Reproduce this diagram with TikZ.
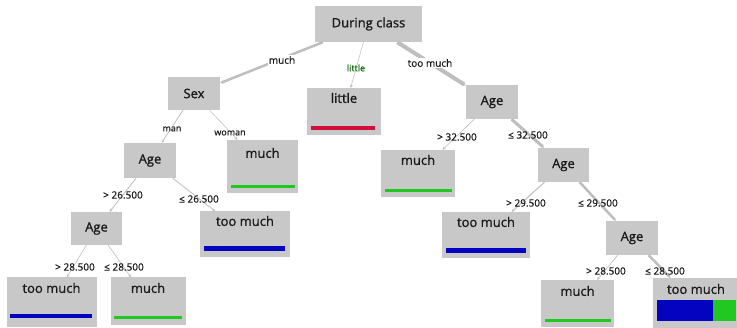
\documentclass[tikz,border=0pt]{standalone}
\usepackage{fontspec}
\setmainfont{Open Sans}
\newfontfamily\nodefont{Open Sans}[FakeBold=1.2]
\newfontfamily\labelfont{Open Sans}[FakeBold=0.6]
\usetikzlibrary{arrows.meta}
\definecolor{boxgray}{HTML}{C8C8C8}
\definecolor{edgegray}{HTML}{BEBEBE}
\definecolor{txt}{HTML}{1A1A1A}
\definecolor{barblue}{HTML}{0404C0}
\definecolor{bargreen}{HTML}{22C822}
\definecolor{barred}{HTML}{D0103A}
\tikzset{
  box/.style={rectangle, fill=boxgray, inner sep=0pt},
  ntext/.style={text=txt, font=\nodefont\fontsize{13}{15}\selectfont, inner sep=0pt},
  elabel/.style={text=txt, font=\labelfont\fontsize{10}{12}\selectfont, inner sep=0pt},
  slabel/.style={text=txt, font=\labelfont\fontsize{9}{11}\selectfont, inner sep=0pt},
  edge/.style={draw=edgegray, -{Stealth[length=3pt,width=3pt]}},
}
\begin{document}
\begin{tikzpicture}[x=1pt,y=-1pt]
\useasboundingbox[fill=white] (0,0) rectangle (737,328);
% decision boxes
\node[box, minimum width=107, minimum height=36] (root) at (368.5,24) {};
\node[ntext] (troot) at (root) {During class};
\node[box, minimum width=52, minimum height=33] (sex) at (194,93.5) {};
\node[ntext] (tsex) at (sex) {Sex};
\node[box, minimum width=52, minimum height=34] (ager1) at (492,102) {};
\node[ntext] (tager1) at (ager1) {Age};
\node[box, minimum width=51, minimum height=34] (ager2) at (563.5,165) {};
\node[ntext] (tager2) at (ager2) {Age};
\node[box, minimum width=52, minimum height=35] (agel1) at (150,160.5) {};
\node[ntext] (tagel1) at (agel1) {Age};
\node[box, minimum width=51, minimum height=33] (agel2) at (96.5,228.5) {};
\node[ntext] (tagel2) at (agel2) {Age};
\node[box, minimum width=52, minimum height=34] (ager3) at (632,238) {};
\node[ntext] (tager3) at (ager3) {Age};
% leaves
\node[box, minimum width=74, minimum height=47] (little) at (344,111.5) {};
\node[ntext] (tlittle) at (344,98) {little};
\fill[barred] (311,126) rectangle (375,130);
\node[box, minimum width=71, minimum height=53] (muchw) at (262.5,166.5) {};
\node[ntext] (tmuchw) at (262.5,153) {much};
\fill[bargreen] (231,185) rectangle (295,188);
\node[box, minimum width=74, minimum height=47] (much32) at (418,173.5) {};
\node[ntext] (tmuch32) at (418,160) {much};
\fill[bargreen] (385,189) rectangle (452,192);
\node[box, minimum width=90, minimum height=46] (tm26) at (245,234.5) {};
\node[ntext] (ttm26) at (245,221) {too much};
\fill[barblue] (204,246) rectangle (285,251);
\node[box, minimum width=88, minimum height=46] (tm29) at (486,235) {};
\node[ntext] (ttm29) at (486,222) {too much};
\fill[barblue] (446,248) rectangle (526,253);
\node[box, minimum width=90, minimum height=50] (tmbl) at (51.5,302.5) {};
\node[ntext] (ttmbl) at (51.5,288) {too much};
\fill[barblue] (10,314) rectangle (92,318);
\node[box, minimum width=75, minimum height=48] (muchbl) at (148,301.5) {};
\node[ntext] (tmuchbl) at (148,288) {much};
\fill[bargreen] (114,316) rectangle (182,319);
\node[box, minimum width=73, minimum height=47] (muchbr) at (577.5,303.5) {};
\node[ntext] (tmuchbr) at (577.5,291) {much};
\fill[bargreen] (545,319) rectangle (611,322);
\node[box, minimum width=84, minimum height=50] (tmbr) at (695,303) {};
\node[ntext] (ttmbr) at (696,289) {too much};
\fill[barblue] (657,300) rectangle (713,321);
\fill[bargreen] (713,300) rectangle (736,321);
% edges
\draw[edge, line width=2.5pt] (root) -- (sex);
\draw[edge, line width=0.5pt] (root) -- (little);
\draw[edge, line width=4pt] (root) -- (ager1);
\draw[edge, line width=0.8pt] (sex) -- (agel1);
\draw[edge, line width=0.5pt] (sex) -- (muchw);
\draw[edge, line width=0.8pt] (agel1) -- (agel2);
\draw[edge, line width=0.8pt] (agel1) -- (tm26);
\draw[edge, line width=0.6pt] (agel2) -- (tmbl);
\draw[edge, line width=0.6pt] (agel2) -- (muchbl);
\draw[edge, line width=0.6pt] (ager1) -- (much32);
\draw[edge, line width=3pt] (ager1) -- (ager2);
\draw[edge, line width=1pt] (ager2) -- (tm29);
\draw[edge, line width=2.5pt] (ager2) -- (ager3);
\draw[edge, line width=0.6pt] (ager3) -- (muchbr);
\draw[edge, line width=2.5pt] (ager3) -- (tmbr);
% edge labels
\node[elabel, fill=white, inner sep=1pt] (l1) at (282,60) {much};
\node[slabel, text=green!40!black] (l2) at (356,68) {little};
\node[elabel, fill=white, inner sep=1pt] (l3) at (430,63) {too much};
\node[slabel] (l4) at (172,129) {man};
\node[slabel] (l5) at (230,133) {woman};
\node[elabel] (l6) at (457,137) {> 32.500};
\node[elabel] (l7) at (528,135) {≤ 32.500};
\node[elabel] (l8) at (123,195) {> 26.500};
\node[elabel] (l9) at (199,199) {≤ 26.500};
\node[elabel] (l10) at (75,267) {> 28.500};
\node[elabel] (l11) at (124,267) {≤ 28.500};
\node[elabel] (l12) at (526,203) {> 29.500};
\node[elabel] (l13) at (598,203) {≤ 29.500};
\node[elabel] (l14) at (606,271) {> 28.500};
\node[elabel] (l15) at (665,271) {≤ 28.500};
\end{tikzpicture}
\end{document}
